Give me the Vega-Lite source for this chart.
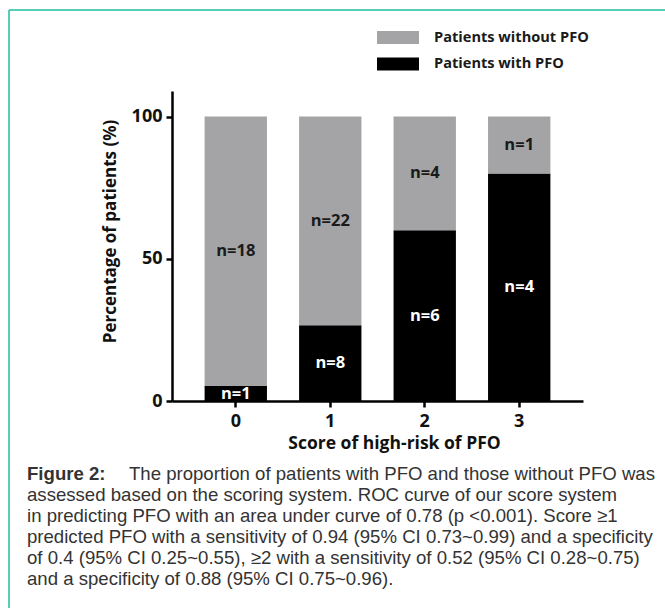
{
  "$schema": "https://vega.github.io/schema/vega-lite/v6.json",
  "description": "Proportion of patients with and without PFO by score of high-risk of PFO.",
  "autosize": {"type": "none"},
  "width": 656,
  "height": 598,
  "padding": {"left": 9, "top": 10, "right": 0, "bottom": 0},
  "background": "white",
  "datasets": {
    "bars": [
      {"score": "0", "group": "Patients with PFO", "pct": 5.26, "label": "n=1"},
      {"score": "0", "group": "Patients without PFO", "pct": 94.74, "label": "n=18"},
      {"score": "1", "group": "Patients with PFO", "pct": 26.67, "label": "n=8"},
      {"score": "1", "group": "Patients without PFO", "pct": 73.33, "label": "n=22"},
      {"score": "2", "group": "Patients with PFO", "pct": 60, "label": "n=6"},
      {"score": "2", "group": "Patients without PFO", "pct": 40, "label": "n=4"},
      {"score": "3", "group": "Patients with PFO", "pct": 80, "label": "n=4"},
      {"score": "3", "group": "Patients without PFO", "pct": 20, "label": "n=1"}
    ],
    "caption": [
      {"line": 1, "part": "label", "text": "Figure 2:"},
      {"line": 1, "part": "first", "text": "The proportion of patients with PFO and those without PFO was"},
      {"line": 2, "part": "body", "text": "assessed based on the scoring system. ROC curve of our score system"},
      {"line": 3, "part": "body", "text": "in predicting PFO with an area under curve of 0.78 (p <0.001). Score ≥1"},
      {"line": 4, "part": "body", "text": "predicted PFO with a sensitivity of 0.94 (95% CI 0.73~0.99) and a specificity"},
      {"line": 5, "part": "body", "text": "of 0.4 (95% CI 0.25~0.55), ≥2 with a sensitivity of 0.52 (95% CI 0.28~0.75)"},
      {"line": 6, "part": "body", "text": "and a specificity of 0.88 (95% CI 0.75~0.96)."}
    ]
  },
  "layer": [
    {
      "data": {"name": "bars"},
      "layer": [
        {
          "mark": {"type": "bar"},
          "encoding": {
            "x": {
              "field": "score",
              "type": "ordinal",
              "scale": {"range": [163, 574], "paddingInner": 0.34, "paddingOuter": 0.345},
              "axis": {
                "title": "Score of high-risk of PFO",
                "offset": -207,
                "labelAngle": 0,
                "domainColor": "black",
                "domainWidth": 2.5,
                "tickColor": "black",
                "tickWidth": 2.5,
                "tickSize": 6,
                "labelFont": "Open Sans",
                "labelFontWeight": "bold",
                "labelFontSize": 18,
                "labelColor": "#111111",
                "labelPadding": 5,
                "titleFont": "Open Sans",
                "titleFontWeight": "bold",
                "titleFontSize": 17.5,
                "titleColor": "#111111",
                "titleX": 385,
                "titleY": 33,
                "grid": false
              }
            },
            "y": {
              "field": "pct",
              "type": "quantitative",
              "stack": "zero",
              "scale": {"domain": [0, 109], "range": [391, 81], "nice": false},
              "axis": {
                "title": "Percentage of patients (%)",
                "values": [0, 50, 100],
                "offset": -163,
                "domainColor": "black",
                "domainWidth": 2.5,
                "tickColor": "black",
                "tickWidth": 2.5,
                "tickSize": 6,
                "labelFont": "Open Sans",
                "labelFontWeight": "bold",
                "labelFontSize": 18,
                "labelColor": "#111111",
                "labelPadding": 4,
                "titleFont": "Open Sans",
                "titleFontWeight": "bold",
                "titleFontSize": 17,
                "titleColor": "#111111",
                "titlePadding": 12,
                "titleY": 221,
                "grid": false
              }
            },
            "color": {
              "field": "group",
              "type": "nominal",
              "scale": {"domain": ["Patients without PFO", "Patients with PFO"], "range": ["#a4a4a6", "#000000"]},
              "legend": {
                "orient": "none",
                "direction": "vertical",
                "legendX": 376,
                "legendY": 14.5,
                "title": null,
                "padding": 0,
                "symbolType": "M-1.615,-0.5H1.615V0.5H-1.615Z",
                "symbolSize": 676,
                "symbolStrokeWidth": 0,
                "labelFont": "Open Sans",
                "labelFontWeight": "bold",
                "labelFontSize": 14.6,
                "labelColor": "#1a1a1a",
                "labelOffset": 23,
                "rowPadding": 6.5
              }
            },
            "order": {"field": "group", "sort": "ascending"}
          }
        },
        {
          "transform": [
            {"stack": "pct", "groupby": ["score"], "sort": [{"field": "group", "order": "ascending"}], "as": ["y0", "y1"]},
            {"calculate": "(datum.y0 + datum.y1) / 2", "as": "mid"}
          ],
          "mark": {"type": "text", "font": "Open Sans", "fontWeight": "bold", "fontSize": 16.5, "baseline": "middle"},
          "encoding": {
            "x": {"field": "score", "type": "ordinal", "title": "Score of high-risk of PFO"},
            "y": {"field": "mid", "type": "quantitative", "title": "Percentage of patients (%)"},
            "text": {"field": "label"},
            "color": {
              "condition": {"test": "datum.group === 'Patients with PFO'", "value": "white"},
              "value": "#1a1a1a"
            }
          }
        }
      ]
    },
    {
      "data": {"name": "caption"},
      "encoding": {
        "y": {
          "field": "line",
          "type": "ordinal",
          "scale": {"domain": [1, 2, 3, 4, 5, 6], "range": [464, 569], "padding": 0},
          "axis": null
        },
        "text": {"field": "text"}
      },
      "layer": [
        {
          "transform": [{"filter": "datum.part === 'label'"}],
          "mark": {"type": "text", "align": "left", "baseline": "middle", "font": "Liberation Sans", "fontSize": 18.6, "fontWeight": "bold", "color": "#333333"},
          "encoding": {
            "x": {"datum": 0, "type": "quantitative", "scale": {"domain": [0, 1], "range": [18, 646]}, "axis": null}
          }
        },
        {
          "transform": [{"filter": "datum.part === 'first'"}],
          "mark": {"type": "text", "align": "right", "baseline": "middle", "font": "Liberation Sans", "fontSize": 18.6, "color": "#333333"},
          "encoding": {
            "x": {"datum": 1, "type": "quantitative", "axis": null}
          }
        },
        {
          "transform": [{"filter": "datum.part === 'body'"}],
          "mark": {"type": "text", "align": "left", "baseline": "middle", "font": "Liberation Sans", "fontSize": 18.6, "color": "#333333"},
          "encoding": {
            "x": {"datum": 0, "type": "quantitative", "axis": null}
          }
        }
      ]
    }
  ],
  "resolve": {"scale": {"x": "independent", "y": "independent"}},
  "config": {
    "view": {"stroke": "#20bfa3", "strokeWidth": 1.5, "strokeDash": [656, 1254, 598, 0]},
    "axis": {"grid": false}
  }
}
